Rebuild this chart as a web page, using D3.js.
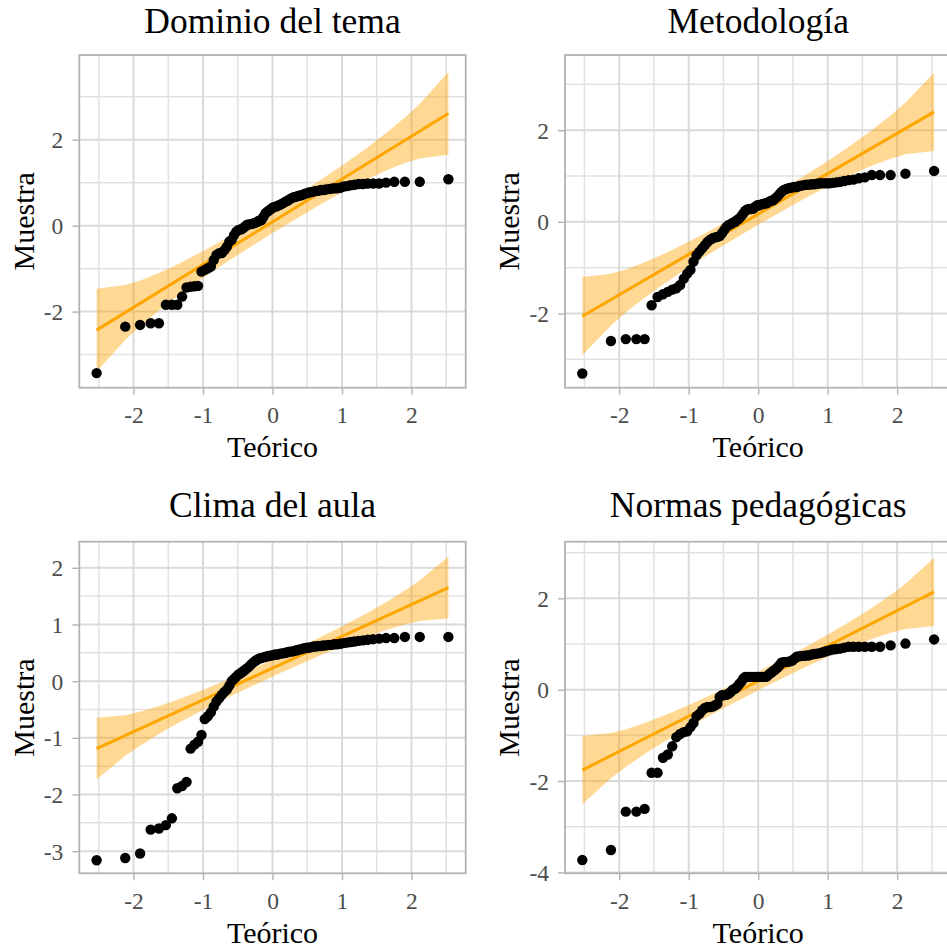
<!DOCTYPE html>
<html>
<head>
<meta charset="utf-8">
<script src="https://cdn.jsdelivr.net/npm/d3@7"></script>
<style>
  html, body { margin: 0; padding: 0; background: #ffffff; }
  svg { display: block; }
</style>
</head>
<body>
<script>
// ---- Data -------------------------------------------------------------

const panelTitles = ["Dominio del tema", "Metodología", "Clima del aula", "Normas pedagógicas"];
const xLabel = "Teórico";
const yLabel = "Muestra";

// Theoretical normal quantiles (n = 88)
const theoretical = [
  -2.531, -2.119, -1.905, -1.753, -1.634, -1.534, -1.448, -1.370, -1.301, -1.237,
  -1.178, -1.123, -1.071, -1.022, -0.975, -0.931, -0.887, -0.846, -0.806, -0.767,
  -0.729, -0.692, -0.657, -0.621, -0.587, -0.554, -0.521, -0.489, -0.457, -0.426,
  -0.395, -0.364, -0.334, -0.304, -0.275, -0.245, -0.216, -0.187, -0.157, -0.128,
  -0.100, -0.071, -0.043, -0.014, 0.014, 0.043, 0.071, 0.100, 0.128, 0.157,
  0.187, 0.216, 0.245, 0.275, 0.304, 0.334, 0.364, 0.395, 0.426, 0.457,
  0.489, 0.521, 0.554, 0.587, 0.621, 0.657, 0.692, 0.729, 0.767, 0.806,
  0.846, 0.887, 0.931, 0.975, 1.022, 1.071, 1.123, 1.178, 1.237, 1.301,
  1.370, 1.448, 1.534, 1.634, 1.753, 1.905, 2.119, 2.531
];

// Sorted standardized sample values
const dominioValues = [
  -3.43, -2.35, -2.31, -2.27, -2.27, -1.84, -1.84, -1.84, -1.65, -1.44,
  -1.42, -1.41, -1.40, -1.07, -1.03, -0.99, -0.95, -0.80, -0.68, -0.64,
  -0.64, -0.57, -0.49, -0.37, -0.33, -0.22, -0.14, -0.10, -0.09, -0.06,
  -0.02, 0.02, 0.03, 0.04, 0.05, 0.07, 0.09, 0.12, 0.13, 0.21,
  0.29, 0.33, 0.36, 0.40, 0.43, 0.44, 0.46, 0.48, 0.50, 0.53,
  0.56, 0.58, 0.61, 0.64, 0.66, 0.67, 0.69, 0.70, 0.71, 0.74,
  0.75, 0.77, 0.78, 0.79, 0.81, 0.81, 0.83, 0.83, 0.84, 0.85,
  0.86, 0.87, 0.87, 0.88, 0.91, 0.92, 0.94, 0.95, 0.97, 0.97,
  0.98, 0.98, 0.98, 1.00, 1.02, 1.02, 1.02, 1.08
];

const metodologiaValues = [
  -3.31, -2.60, -2.56, -2.56, -2.56, -1.82, -1.64, -1.58, -1.53, -1.48,
  -1.45, -1.38, -1.24, -1.13, -1.05, -0.87, -0.73, -0.65, -0.58, -0.51,
  -0.44, -0.39, -0.36, -0.34, -0.33, -0.31, -0.25, -0.18, -0.11, -0.07,
  -0.05, -0.02, 0.00, 0.04, 0.07, 0.12, 0.18, 0.24, 0.27, 0.28,
  0.28, 0.29, 0.33, 0.36, 0.36, 0.38, 0.39, 0.40, 0.41, 0.44,
  0.46, 0.47, 0.51, 0.55, 0.60, 0.65, 0.69, 0.71, 0.73, 0.74,
  0.75, 0.76, 0.76, 0.78, 0.79, 0.80, 0.81, 0.81, 0.82, 0.82,
  0.83, 0.84, 0.84, 0.84, 0.84, 0.85, 0.86, 0.87, 0.89, 0.91,
  0.92, 0.95, 0.97, 1.02, 1.02, 1.02, 1.05, 1.11
];

const climaValues = [
  -3.16, -3.12, -3.04, -2.62, -2.60, -2.54, -2.42, -1.89, -1.85, -1.78,
  -1.19, -1.12, -1.07, -0.95, -0.67, -0.62, -0.55, -0.45, -0.36, -0.30,
  -0.24, -0.19, -0.15, -0.08, 0.00, 0.04, 0.08, 0.12, 0.14, 0.17,
  0.20, 0.23, 0.26, 0.30, 0.33, 0.36, 0.38, 0.40, 0.41, 0.42,
  0.43, 0.44, 0.45, 0.45, 0.46, 0.47, 0.47, 0.48, 0.49, 0.49,
  0.50, 0.51, 0.52, 0.52, 0.53, 0.54, 0.55, 0.56, 0.57, 0.58,
  0.59, 0.59, 0.60, 0.61, 0.61, 0.62, 0.62, 0.63, 0.63, 0.64,
  0.64, 0.65, 0.65, 0.66, 0.67, 0.68, 0.69, 0.70, 0.71, 0.72,
  0.73, 0.74, 0.75, 0.76, 0.76, 0.78, 0.78, 0.78
];

const normasValues = [
  -3.73, -3.51, -2.67, -2.67, -2.61, -1.82, -1.82, -1.49, -1.42, -1.24,
  -1.04, -0.97, -0.93, -0.91, -0.82, -0.73, -0.58, -0.53, -0.45, -0.40,
  -0.38, -0.38, -0.37, -0.34, -0.31, -0.16, -0.12, -0.12, -0.11, -0.09,
  -0.05, 0.00, 0.02, 0.06, 0.12, 0.17, 0.24, 0.28, 0.28, 0.28,
  0.28, 0.28, 0.28, 0.28, 0.28, 0.28, 0.28, 0.28, 0.29, 0.34,
  0.37, 0.41, 0.44, 0.48, 0.53, 0.59, 0.60, 0.61, 0.61, 0.62,
  0.64, 0.68, 0.72, 0.73, 0.74, 0.74, 0.75, 0.75, 0.77, 0.78,
  0.79, 0.80, 0.82, 0.84, 0.86, 0.88, 0.89, 0.90, 0.92, 0.94,
  0.94, 0.94, 0.94, 0.94, 0.94, 0.97, 1.01, 1.10
];

// Reference line (through the quartiles) for each panel
const lineIntercepts = [0.09, 0.17, 0.23, 0.19];
const lineSlopes = [0.996, 0.881, 0.561, 0.771];

// Pointwise confidence band: half-widths at selected theoretical quantiles
const bandKnots = [-2.531, -2.119, -1.905, -1.634, -1.370, -1.022, -0.657, -0.014,
                   0.014, 0.657, 1.022, 1.370, 1.634, 1.905, 2.119, 2.531];
const dominioBand     = [0.964, 0.637, 0.531, 0.436, 0.372, 0.316, 0.282, 0.261,
                         0.261, 0.282, 0.316, 0.372, 0.436, 0.531, 0.637, 0.964];
const metodologiaBand = [0.854, 0.564, 0.470, 0.386, 0.330, 0.280, 0.249, 0.231,
                         0.231, 0.249, 0.280, 0.330, 0.386, 0.470, 0.564, 0.854];
const climaBand       = [0.544, 0.359, 0.300, 0.246, 0.210, 0.178, 0.159, 0.147,
                         0.147, 0.159, 0.178, 0.210, 0.246, 0.300, 0.359, 0.544];
const normasBand      = [0.747, 0.493, 0.412, 0.338, 0.288, 0.245, 0.218, 0.202,
                         0.202, 0.218, 0.245, 0.288, 0.338, 0.412, 0.493, 0.747];

// Axis limits and breaks
const xLimits = [-2.78, 2.78];
const xTicks = [-2, -1, 0, 1, 2];
const yLimits = [[-3.77, 3.97], [-3.62, 3.64], [-3.39, 2.46], [-4.02, 3.24]];
const yTicks = [[-2, 0, 2], [-2, 0, 2], [-3, -2, -1, 0, 1, 2], [-4, -2, 0, 2]];

// ---- Layout -----------------------------------------------------------

const W = 947, H = 950;
const frames = [
  { x: 79.3,  y: 55,    w: 386.4, h: 332.7, titleY: 33.3 },
  { x: 565,   y: 55,    w: 386.4, h: 332.7, titleY: 33.3 },
  { x: 79.3,  y: 541.7, w: 386.4, h: 331.6, titleY: 517 },
  { x: 565,   y: 541.7, w: 386.4, h: 331.6, titleY: 517 }
];

const panels = [
  { values: dominioValues,     band: dominioBand },
  { values: metodologiaValues, band: metodologiaBand },
  { values: climaValues,       band: climaBand },
  { values: normasValues,      band: normasBand }
];

const FONT = "'Liberation Serif', 'Times New Roman', serif";
const ORANGE = "#FFA500";

const svg = d3.select("body").append("svg")
  .attr("width", W).attr("height", H)
  .attr("viewBox", `0 0 ${W} ${H}`)
  .style("font-family", FONT);

function minorBreaks(ticks, lim) {
  const step = ticks[1] - ticks[0];
  const out = [];
  for (let v = ticks[0] - step / 2; v <= lim[1]; v += step) {
    if (v >= lim[0] && v <= lim[1]) out.push(v);
  }
  return out;
}

panels.forEach((p, i) => {
  const f = frames[i];
  const x = d3.scaleLinear().domain(xLimits).range([f.x, f.x + f.w]);
  const y = d3.scaleLinear().domain(yLimits[i]).range([f.y + f.h, f.y]);

  const g = svg.append("g");
  const clipId = "clip" + i;
  g.append("clipPath").attr("id", clipId)
    .append("rect").attr("x", f.x).attr("y", f.y).attr("width", f.w).attr("height", f.h);

  const plot = g.append("g").attr("clip-path", `url(#${clipId})`);

  // minor grid
  const xMinor = minorBreaks(xTicks, xLimits);
  const yMinor = minorBreaks(yTicks[i], yLimits[i]);
  plot.selectAll(".xminor").data(xMinor).join("line")
    .attr("x1", d => x(d)).attr("x2", d => x(d))
    .attr("y1", f.y).attr("y2", f.y + f.h)
    .attr("stroke", "#E2E2E2").attr("stroke-width", 1.5);
  plot.selectAll(".yminor").data(yMinor).join("line")
    .attr("y1", d => y(d)).attr("y2", d => y(d))
    .attr("x1", f.x).attr("x2", f.x + f.w)
    .attr("stroke", "#E2E2E2").attr("stroke-width", 1.5);

  // major grid
  plot.selectAll(".xmajor").data(xTicks).join("line")
    .attr("x1", d => x(d)).attr("x2", d => x(d))
    .attr("y1", f.y).attr("y2", f.y + f.h)
    .attr("stroke", "#DADADA").attr("stroke-width", 2);
  plot.selectAll(".ymajor").data(yTicks[i]).join("line")
    .attr("y1", d => y(d)).attr("y2", d => y(d))
    .attr("x1", f.x).attr("x2", f.x + f.w)
    .attr("stroke", "#DADADA").attr("stroke-width", 2);

  const a = lineIntercepts[i], b = lineSlopes[i];

  // confidence band
  const bandData = bandKnots.map((q, k) => ({ q, lo: a + b * q - p.band[k], hi: a + b * q + p.band[k] }));
  plot.append("path").datum(bandData)
    .attr("d", d3.area().x(d => x(d.q)).y0(d => y(d.lo)).y1(d => y(d.hi)))
    .attr("fill", ORANGE).attr("fill-opacity", 0.42);

  // reference line
  const ends = [theoretical[0], theoretical[theoretical.length - 1]];
  plot.append("path").datum(ends)
    .attr("d", d3.line().x(d => x(d)).y(d => y(a + b * d)))
    .attr("stroke", ORANGE).attr("stroke-width", 3).attr("fill", "none");

  // sample points
  plot.selectAll(".pt").data(p.values).join("circle")
    .attr("cx", (d, k) => x(theoretical[k]))
    .attr("cy", d => y(d))
    .attr("r", 5.2)
    .attr("fill", "#000000");

  // panel border
  g.append("rect").attr("x", f.x).attr("y", f.y).attr("width", f.w).attr("height", f.h)
    .attr("fill", "none").attr("stroke", "#B3B3B3").attr("stroke-width", 1.8);

  // axes
  const xAxis = g.append("g").attr("transform", `translate(0,${f.y + f.h})`)
    .call(d3.axisBottom(x).tickValues(xTicks).tickSize(7).tickFormat(d => String(d)));
  const yAxis = g.append("g").attr("transform", `translate(${f.x},0)`)
    .call(d3.axisLeft(y).tickValues(yTicks[i]).tickSize(7).tickPadding(9).tickFormat(d => String(d)));

  [xAxis, yAxis].forEach(ax => {
    ax.select(".domain").remove();
    ax.selectAll(".tick line").attr("stroke", "#B3B3B3").attr("stroke-width", 1.4);
    ax.selectAll(".tick text")
      .attr("fill", "#4D4D4D")
      .style("font-family", FONT)
      .style("font-size", "23.5px");
  });
  xAxis.selectAll(".tick text").attr("y", 35.8).attr("dy", 0);
  yAxis.selectAll(".tick text").attr("dy", "0.34em");

  // titles
  const cx = f.x + f.w / 2;
  g.append("text").attr("x", cx).attr("y", f.titleY)
    .attr("text-anchor", "middle").style("font-size", "35.5px").attr("fill", "#000")
    .text(panelTitles[i]);
  g.append("text").attr("x", cx).attr("y", f.y + f.h + 69.5)
    .attr("text-anchor", "middle").style("font-size", "30px").attr("fill", "#000")
    .text(xLabel);
  g.append("text")
    .attr("transform", `translate(${f.x - 45.8},${f.y + f.h / 2}) rotate(-90)`)
    .attr("text-anchor", "middle").style("font-size", "30px").attr("fill", "#000")
    .text(yLabel);
});
</script>
</body>
</html>
